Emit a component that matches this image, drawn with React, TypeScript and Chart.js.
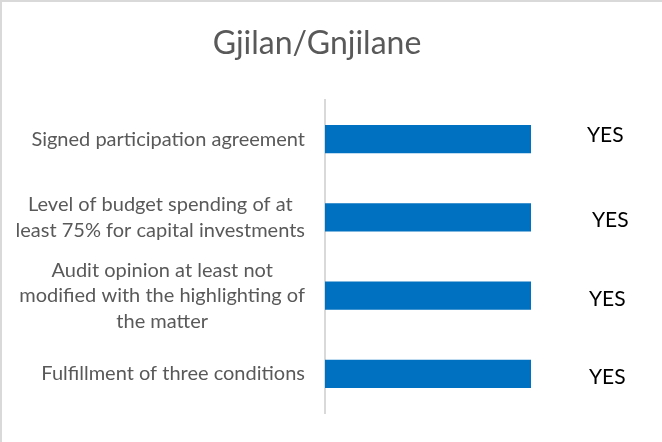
import React, { useEffect, useRef } from "react";
import { Chart, registerables } from "chart.js";

Chart.register(...registerables);

const TITLE = "Gjilan/Gnjilane";
const categories: string[][] = [
  ["Signed participation agreement"],
  ["Level of budget spending of at", "least 75% for capital investments"],
  ["Audit opinion at least not", "modified with the highlighting of", "the matter"],
  ["Fulfillment of three conditions"],
];
const values: number[] = [1, 1, 1, 1];
const valueLabels: string[] = ["YES", "YES", "YES", "YES"];

const FONT = "Lato, 'Open Sans', sans-serif";
const GREY = "#595959";

export default function App() {
  const ref = useRef<HTMLCanvasElement | null>(null);

  useEffect(() => {
    if (!ref.current) return;

    const categoryLabelPlugin = {
      id: "categoryLabels",
      afterDraw(chart: any) {
        const ctx = chart.ctx;
        const yScale = chart.scales.y;
        const area = chart.chartArea;
        ctx.save();
        ctx.font = `20px ${FONT}`;
        ctx.fillStyle = GREY;
        ctx.textAlign = "center";
        ctx.textBaseline = "middle";
        const lh = 25.5;
        categories.forEach((lines, i) => {
          const yc = yScale.getPixelForTick(i);
          const w = Math.max(...lines.map((l) => ctx.measureText(l).width));
          const cx = area.left - 20 - w / 2;
          lines.forEach((l, j) => {
            ctx.fillText(l, cx, yc + (j - (lines.length - 1) / 2) * lh);
          });
        });
        ctx.restore();
      },
    };

    const nudgeX = [56, 61, 58, 58];
    const nudgeY = [-4, 3, 4, 3];
    const valueLabelPlugin = {
      id: "valueLabels",
      afterDatasetsDraw(chart: any) {
        const ctx = chart.ctx;
        const meta = chart.getDatasetMeta(0);
        ctx.save();
        ctx.font = `21px ${FONT}`;
        ctx.fillStyle = "#000000";
        ctx.textAlign = "left";
        ctx.textBaseline = "middle";
        meta.data.forEach((bar: any, i: number) => {
          ctx.fillText(valueLabels[i], bar.x + nudgeX[i], bar.y + nudgeY[i]);
        });
        ctx.restore();
      },
    };

    const chart = new Chart(ref.current, {
      type: "bar",
      data: {
        labels: categories,
        datasets: [
          {
            data: values,
            backgroundColor: "#0070c0",
            borderWidth: 0,
            categoryPercentage: 1,
            barPercentage: 0.358,
          },
        ],
      },
      options: {
        indexAxis: "y",
        responsive: false,
        animation: false,
        layout: { padding: { left: 0, right: 28, top: 0, bottom: 29 } },
        plugins: {
          legend: { display: false },
          tooltip: { enabled: false },
          title: {
            display: true,
            text: TITLE,
            color: GREY,
            font: { family: FONT, size: 32, weight: "normal", lineHeight: 1.2 },
            padding: { top: 24, bottom: 37.6 },
          },
        },
        scales: {
          x: { display: false, min: 0, max: 1.5 },
          y: {
            display: true,
            grid: { display: false },
            ticks: { display: false },
            border: { display: true, color: "#d9d9d9", width: 2 },
            afterFit: (s: any) => {
              s.width = 325;
            },
          },
        },
      },
      plugins: [categoryLabelPlugin, valueLabelPlugin],
    } as any);

    return () => chart.destroy();
  }, []);

  return (
    <div
      style={{
        position: "fixed",
        left: 0,
        top: 0,
        width: 662,
        height: 442,
        background: "#ffffff",
        boxShadow: "inset 2px 2px 0 #d9d9d9",
      }}
    >
      <canvas ref={ref} width={662} height={442} style={{ display: "block" }} />
    </div>
  );
}
